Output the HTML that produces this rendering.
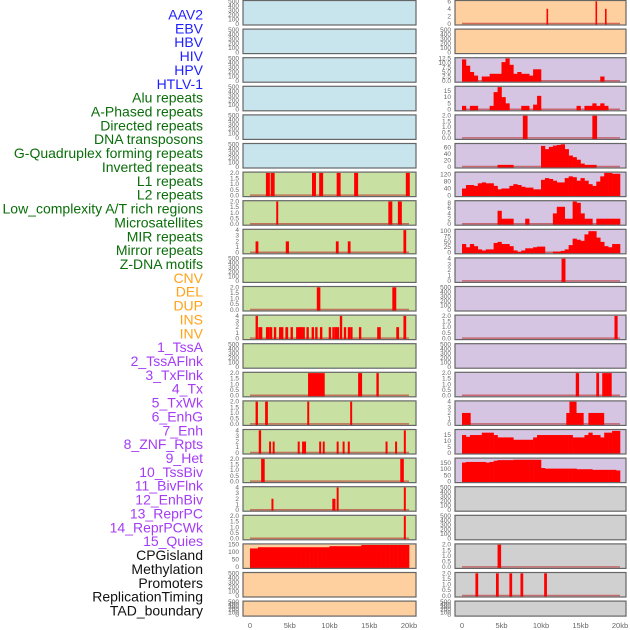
<!DOCTYPE html>
<html><head><meta charset="utf-8"><style>
html,body{margin:0;padding:0;background:#fff;}
svg{display:block;font-family:"Liberation Sans",sans-serif;}
</style></head><body>
<svg id="chart" width="630" height="630" viewBox="0 0 630 630" xmlns="http://www.w3.org/2000/svg"></svg>
<script>
// ---- labels ----
const trackLabels = ["AAV2","EBV","HBV","HIV","HPV","HTLV-1","Alu repeats","A-Phased repeats","Directed repeats","DNA transposons","G-Quadruplex forming repeats","Inverted repeats","L1 repeats","L2 repeats","Low_complexity A/T rich regions","Microsatellites","MIR repeats","Mirror repeats","Z-DNA motifs","CNV","DEL","DUP","INS","INV","1_TssA","2_TssAFlnk","3_TxFlnk","4_Tx","5_TxWk","6_EnhG","7_Enh","8_ZNF_Rpts","9_Het","10_TssBiv","11_BivFlnk","12_EnhBiv","13_ReprPC","14_ReprPCWk","15_Quies","CPGisland","Methylation","Promoters","ReplicationTiming","TAD_boundary"];
const labelGroups = [6,13,5,15,5];
const xTickValues = [0,5,10,15,20];
const xTickLabels = ["0","5kb","10kb","15kb","20kb"];

// ---- left column spike data (kb start, value, width kb) ----
const l6_pos=[2.0,2.6,7.8,8.7,10.9,13.1,19.6]; const l6_val=[2,2,2,2,2,2,2]; const l6_w=[0.5,0.5,0.5,0.5,0.5,0.5,0.5];
const l7_pos=[3.3,17.4,18.6]; const l7_val=[2,2,2]; const l7_w=[0.25,0.5,0.5];
const l8_pos=[0.7,4.5,10.8,12.3,19.3]; const l8_val=[2,2,2,2,4]; const l8_w=[0.35,0.4,0.35,0.35,0.35];
const l10_pos=[8.4,17.9]; const l10_val=[2,2]; const l10_w=[0.45,0.5];
const l11_pos=[0.7,1.05,1.25,2.0,2.2,2.5,3.0,3.65,3.9,4.45,5.1,5.8,6.1,6.3,6.6,7.1,7.75,8.2,8.8,9.9,10.35,10.65,10.9,11.3,11.8,12.3,12.6,13.7,16.0,18.4,19.3];
const l11_val=[4,2,2,2,2,2,2,2,2,2,2,2,2,2,2,2,2,2,2,2,2,2,2,4,2,2,2,2,2,2,4];
const l11_w=[0.3,0.3,0.3,0.3,0.3,0.3,0.3,0.3,0.3,0.35,0.3,0.3,0.3,0.3,0.3,0.3,0.3,0.3,0.3,0.3,0.3,0.3,0.3,0.3,0.3,0.3,0.3,0.3,0.45,0.35,0.35];
const l13_pos=[7.3,13.6,15.9]; const l13_val=[2,2,2]; const l13_w=[2.1,0.5,0.3];
const l14_pos=[0.7,1.9,7.2,12.6]; const l14_val=[2,2,2,2]; const l14_w=[0.3,0.35,0.25,0.25];
const l15_pos=[1.1,2.4,2.85,6.0,6.55,8.7,9.15,10.9,11.65,12.3,17.05,18.25,19.35]; const l15_val=[4,2,2,2,2,2,2,2,2,2,2,2,4]; const l15_w=[0.3,0.25,0.25,0.25,0.5,0.25,0.25,0.25,0.25,0.25,0.25,0.25,0.25];
const l16_pos=[1.4,18.9]; const l16_val=[2,2]; const l16_w=[0.45,0.45];
const l17_pos=[2.7,10.35,10.9,19.35]; const l17_val=[2,2,4,4]; const l17_w=[0.25,0.4,0.25,0.25];
const l18_pos=[19.35]; const l18_val=[2]; const l18_w=[0.25];
const cpg_vals=[125,125,133,133,133,133,133,133,133,133,133,133,133,133,133,133,133,133,133,133,140,140,140,140,140,140,140,140,148,148,148,148,148,148,148,148,148,148,148,148];

// ---- right column data ----
const r0_pos=[10.7,16.9,18.1]; const r0_val=[4,6,4]; const r0_w=[0.2,0.2,0.2];
const hiv_vals=[12,8.5,5,3,0,2.5,2.5,4,4,4,10.5,12.5,9,4,5,4,4,3,6.5,6.5,0,0,0,0,0,0,0,0,0,0,0,0,0,0,0,2.5,0,0,0,0];
const alu_vals=[3,0,3,3,0,0,0,3,14,18,10,5,0,0,0,3,3,0,4,11,0,0,0,0,0,0,0,0,0,3,0,3,3,5,3,5,3,0,0,0];
const r4_pos=[7.7,16.5]; const r4_val=[2,2]; const r4_w=[0.6,0.6];
const g4_vals=[0,0,0,0,0,0,0,0,0,6,6,6,6,0,0,0,0,0,0,0,65,55,62,66,68,70,55,35,30,22,10,6,6,6,0,0,0,0,0,0];
const l1_vals=[40,60,60,55,70,75,70,70,55,35,40,40,55,65,60,50,45,45,35,35,90,100,95,85,75,75,100,110,105,85,100,85,65,55,80,110,130,130,125,125];
const l2_vals=[0,0,0,0,0,0,0,0,0,5,2,2,2,0,0,0,2,0,0,0,0,0,0,4,6.5,6.5,2,2,8.5,8,4,2,2,0,2,2,2,2,2,2];
const mir_vals=[40,25,40,30,15,10,15,15,45,50,40,40,30,10,3,10,20,20,25,28,28,0,0,5,5,8,15,35,65,60,55,85,100,100,70,50,30,25,40,40];
const r9_pos=[12.6]; const r9_val=[4]; const r9_w=[0.5];
const r11_pos=[19.3]; const r11_val=[2]; const r11_w=[0.4];
const r13_pos=[14.4,17.0,17.75]; const r13_val=[2,2,2]; const r13_w=[0.42,0.35,1.2];
const r14_pos=[0,13.2,13.6,16.0]; const r14_val=[2,2,4,2]; const r14_w=[1.1,2.2,0.9,2.0];
const enh_vals=[15,13.5,15,15,15,17,17,17,15,13,13,13,13,11,11,11,11,11,13,15,15,15,15,15,15,15,15,15,13,13,13,15,17,15,15,13,17,17,18.5,18.5];
const znf_vals=[155,160,160,160,160,160,155,160,170,175,175,175,175,178,178,178,178,178,178,178,110,105,105,105,105,105,105,105,105,100,100,100,100,95,95,95,95,95,95,90];
const r19_pos=[4.5]; const r19_val=[2]; const r19_w=[0.45];
const r20_pos=[1.7,4.3,6.0,7.4,10.4]; const r20_val=[2,2,2,2,2]; const r20_w=[0.35,0.35,0.35,0.35,0.35];

// tick sets
const ticksEmpty=[0,100,200,300,400,500];
const ticks2=[0,0.5,1,1.5,2];
const ticks4=[0,1,2,3,4];

const NS="http://www.w3.org/2000/svg";
const svg=document.getElementById('chart');
function mk(tag,attrs,parent){const e=document.createElementNS(NS,tag);for(const k in attrs)e.setAttribute(k,attrs[k]);(parent||svg).appendChild(e);return e;}

// label colors
const groupColors=["#1f1fff","#0a6e0a","#ffa31a","#a43cf5","#111111"];
let li=0;
labelGroups.forEach((n,g)=>{for(let k=0;k<n;k++){const i=li++;
  const t=mk('text',{x:203,y:19.5+i*13.86,'text-anchor':'end','font-size':'14',fill:groupColors[g]});
  t.textContent=trackLabels[i];
  
  
}});

const BLUE="#c8e4ec",GREEN="#c8e1a3",ORANGE="#fecf9f",PURPLE="#d6c5e2",GRAY="#d0d0d0";
const cols=[{x0:243,x1:416,z:250,k:7.95,tx:239},{x0:455,x1:626,z:462,k:7.9,tx:451}];

function fmt(v,ticks){const dec=ticks.some(t=>t%1!==0);return dec?v.toFixed(1):String(v);}

function panel(col,row,bg,yMax,ticks,kind,a,b,c){
  const C=cols[col];
  const top=0.5+row*28.6;const h=row===21?15:24.5;
  const g=mk('g',{});
  
  
  mk('rect',{x:C.x0,y:top,width:C.x1-C.x0,height:h,fill:bg},g);
  const y0=top+h-1.2, y1=top+0.8;
  const ys=v=>y0-(v/yMax)*(y0-y1);
  const xs=kb=>C.z+kb*C.k;
  ticks.forEach(t=>{const tt=mk('text',{x:C.tx,y:ys(t)+2,'text-anchor':'end','font-size':'6.5',fill:'#666'},g);tt.textContent=fmt(t,ticks);
    
    });
  if(kind){
    mk('line',{x1:xs(0),x2:xs(20),y1:y0-0.3,y2:y0-0.3,stroke:'rgba(190,40,40,0.6)','stroke-width':1.5},g);
    if(kind==='hist'){
      a.forEach((v,i)=>{if(v<=0)return;const r=mk('rect',{x:xs(i*0.5),y:ys(v),width:xs(0.5)-xs(0)+0.3,height:y0-ys(v)+0.8,fill:'#ff0000'},g);
        
        });
    } else {
      a.forEach((p,i)=>{const r=mk('rect',{x:xs(p),y:ys(b[i]),width:Math.max(1.5,c[i]*C.k),height:y0-ys(b[i])+0.8,fill:'#ff0000'},g);
        
        });
    }
  }
  mk('rect',{x:C.x0,y:top,width:C.x1-C.x0,height:h,fill:'none',stroke:'#666','stroke-width':1.2},g);
}

// left column
for(let r=0;r<6;r++)panel(0,r,BLUE,500,ticksEmpty);
panel(0,6,GREEN,2,ticks2,'spk',l6_pos,l6_val,l6_w);
panel(0,7,GREEN,2,ticks2,'spk',l7_pos,l7_val,l7_w);
panel(0,8,GREEN,4,ticks4,'spk',l8_pos,l8_val,l8_w);
panel(0,9,GREEN,500,ticksEmpty);
panel(0,10,GREEN,2,ticks2,'spk',l10_pos,l10_val,l10_w);
panel(0,11,GREEN,4,ticks4,'spk',l11_pos,l11_val,l11_w);
panel(0,12,GREEN,500,ticksEmpty);
panel(0,13,GREEN,2,ticks2,'spk',l13_pos,l13_val,l13_w);
panel(0,14,GREEN,2,ticks2,'spk',l14_pos,l14_val,l14_w);
panel(0,15,GREEN,4,ticks4,'spk',l15_pos,l15_val,l15_w);
panel(0,16,GREEN,2,ticks2,'spk',l16_pos,l16_val,l16_w);
panel(0,17,GREEN,4,ticks4,'spk',l17_pos,l17_val,l17_w);
panel(0,18,GREEN,2,ticks2,'spk',l18_pos,l18_val,l18_w);
panel(0,19,ORANGE,150,[0,50,100,150],'hist',cpg_vals);
panel(0,20,ORANGE,500,ticksEmpty);
panel(0,21,ORANGE,500,ticksEmpty);

// right column
panel(1,0,ORANGE,6,[0,2,4,6],'spk',r0_pos,r0_val,r0_w);
panel(1,1,ORANGE,500,ticksEmpty);
panel(1,2,PURPLE,12.5,[0,2.5,5,7.5,10,12.5],'hist',hiv_vals);
panel(1,3,PURPLE,18,[0,5,10,15],'hist',alu_vals);
panel(1,4,PURPLE,2,ticks2,'spk',r4_pos,r4_val,r4_w);
panel(1,5,PURPLE,70,[0,20,40,60],'hist',g4_vals);
panel(1,6,PURPLE,130,[0,40,80,120],'hist',l1_vals);
panel(1,7,PURPLE,8.5,[0,2,4,6,8],'hist',l2_vals);
panel(1,8,PURPLE,105,[0,25,50,75,100],'hist',mir_vals);
panel(1,9,PURPLE,4,ticks4,'spk',r9_pos,r9_val,r9_w);
panel(1,10,PURPLE,500,ticksEmpty);
panel(1,11,PURPLE,2,ticks2,'spk',r11_pos,r11_val,r11_w);
panel(1,12,PURPLE,500,ticksEmpty);
panel(1,13,PURPLE,2,ticks2,'spk',r13_pos,r13_val,r13_w);
panel(1,14,PURPLE,4,ticks4,'spk',r14_pos,r14_val,r14_w);
panel(1,15,PURPLE,19,[0,5,10,15],'hist',enh_vals);
panel(1,16,PURPLE,185,[0,50,100,150],'hist',znf_vals);
panel(1,17,GRAY,500,ticksEmpty);
panel(1,18,GRAY,500,ticksEmpty);
panel(1,19,GRAY,2,ticks2,'spk',r19_pos,r19_val,r19_w);
panel(1,20,GRAY,2,ticks2,'spk',r20_pos,r20_val,r20_w);
panel(1,21,GRAY,500,ticksEmpty);

// x axes
cols.forEach((C,ci)=>{xTickValues.forEach((v,i)=>{
  const t=mk('text',{x:C.z+v*C.k,y:628,'text-anchor':'middle','font-size':'7.5',fill:'#666'});
  t.textContent=xTickLabels[i];
  
  
});});
</script>
</body></html>
